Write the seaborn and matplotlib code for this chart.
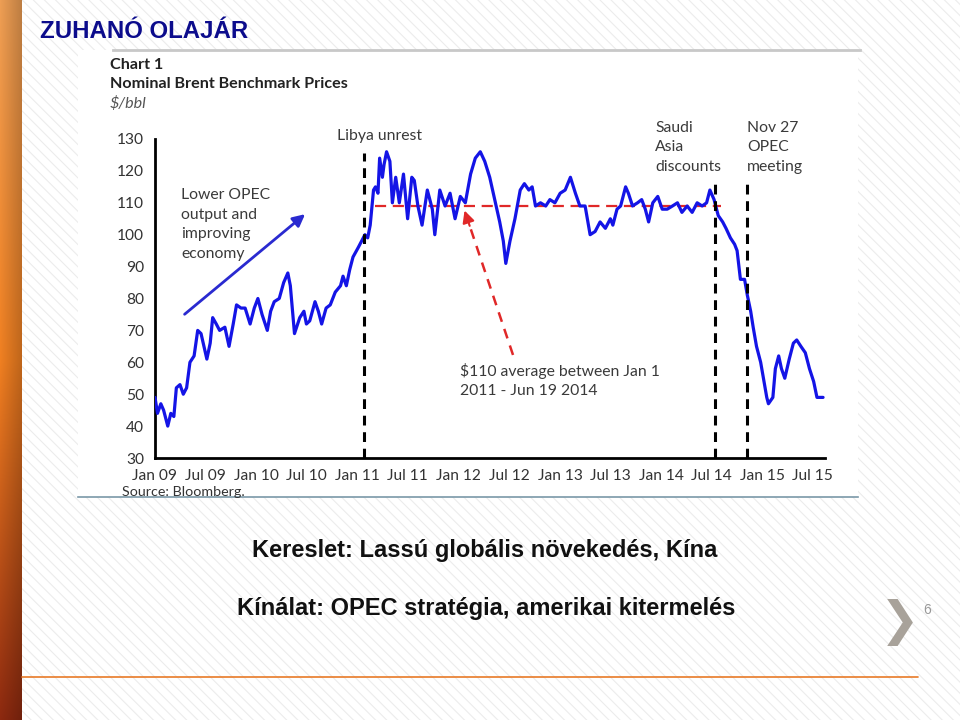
import numpy as np
import pandas as pd
import matplotlib
matplotlib.use("Agg")
import matplotlib.pyplot as plt
import matplotlib.dates as mdates
from matplotlib.patches import Rectangle
import seaborn as sns

# ---------------- data ----------------
dates = [
    "2009-01-01", "2009-01-10", "2009-01-22", "2009-02-01", "2009-02-16", "2009-02-27",
    "2009-03-10", "2009-03-19", "2009-04-01", "2009-04-13", "2009-04-25", "2009-05-07",
    "2009-05-22", "2009-06-04", "2009-06-16", "2009-07-07", "2009-07-19", "2009-07-28",
    "2009-08-10", "2009-08-22", "2009-09-10", "2009-09-25", "2009-10-10", "2009-10-22",
    "2009-11-07", "2009-11-22", "2009-12-10", "2009-12-25", "2010-01-07", "2010-01-22",
    "2010-02-10", "2010-02-22", "2010-03-07", "2010-03-25", "2010-04-10", "2010-04-25",
    "2010-05-04", "2010-05-19", "2010-06-07", "2010-06-22", "2010-07-01", "2010-07-13",
    "2010-08-01", "2010-08-13", "2010-08-25", "2010-09-10", "2010-09-25", "2010-10-13",
    "2010-11-01", "2010-11-10", "2010-11-22", "2010-12-04", "2010-12-16", "2011-01-04",
    "2011-01-16", "2011-01-28", "2011-02-07", "2011-02-16", "2011-02-28", "2011-03-07",
    "2011-03-16", "2011-03-22", "2011-04-01", "2011-04-07", "2011-04-16", "2011-04-28",
    "2011-05-07", "2011-05-19", "2011-06-01", "2011-06-16", "2011-07-01", "2011-07-16",
    "2011-07-25", "2011-08-07", "2011-08-22", "2011-09-10", "2011-09-28", "2011-10-07",
    "2011-10-25", "2011-11-13", "2011-12-01", "2011-12-19", "2012-01-07", "2012-01-25",
    "2012-02-13", "2012-03-01", "2012-03-19", "2012-04-04", "2012-04-22", "2012-05-10",
    "2012-05-28", "2012-06-10", "2012-06-19", "2012-07-04", "2012-07-22", "2012-08-10",
    "2012-08-25", "2012-09-10", "2012-09-22", "2012-10-04", "2012-10-22", "2012-11-10",
    "2012-11-25", "2012-12-13", "2013-01-01", "2013-01-19", "2013-02-07", "2013-02-25",
    "2013-03-13", "2013-04-01", "2013-04-19", "2013-05-07", "2013-05-25", "2013-06-13",
    "2013-07-01", "2013-07-10", "2013-07-25", "2013-08-07", "2013-08-25", "2013-09-04",
    "2013-09-19", "2013-10-07", "2013-10-22", "2013-11-04", "2013-11-16", "2013-12-01",
    "2013-12-19", "2014-01-04", "2014-01-22", "2014-02-10", "2014-02-28", "2014-03-16",
    "2014-04-04", "2014-04-22", "2014-05-10", "2014-05-28", "2014-06-13", "2014-06-25",
    "2014-07-10", "2014-07-25", "2014-08-10", "2014-08-22", "2014-09-07", "2014-09-22",
    "2014-10-01", "2014-10-13", "2014-10-28", "2014-11-07", "2014-11-19", "2014-11-28",
    "2014-12-10", "2014-12-25", "2015-01-04", "2015-01-16", "2015-01-22", "2015-02-07",
    "2015-02-16", "2015-02-28", "2015-03-10", "2015-03-22", "2015-04-07", "2015-04-22",
    "2015-05-04", "2015-05-19", "2015-06-04", "2015-06-19", "2015-07-04", "2015-07-16",
    "2015-07-28", "2015-08-07",
]
prices = [
    49, 44, 47, 45, 40, 44,
    43, 52, 53, 50, 52, 60,
    62, 70, 69, 61, 66, 74,
    72, 70, 71, 65, 72, 78,
    77, 77, 72, 77, 80, 75,
    70, 76, 79, 80, 85, 88,
    84, 69, 74, 76, 72, 73,
    79, 76, 72, 77, 78, 82,
    84, 87, 84, 89, 93, 96,
    98, 100, 99, 103, 114, 115,
    113, 124, 118, 122, 126, 123,
    110, 118, 110, 119, 105, 118,
    117, 109, 103, 114, 108, 100,
    114, 109, 113, 105, 112, 110,
    119, 124, 126, 123, 118, 111,
    104, 98, 91, 98, 105, 114,
    116, 114, 115, 109, 110, 109,
    111, 110, 113, 114, 118, 113,
    109, 109, 100, 101, 104, 102,
    105, 103, 108, 109, 115, 113,
    109, 110, 111, 108, 104, 110,
    112, 108, 108, 109, 110, 107,
    109, 107, 110, 109, 110, 114,
    111, 106, 104, 102, 99, 97,
    95, 86, 86, 81, 76, 71,
    65, 60, 55, 49, 47, 49,
    58, 62, 58, 55, 61, 66,
    67, 65, 63, 58, 54, 49,
    49, 49,
]
tick_dates = ["2009-01-01", "2009-07-01", "2010-01-01", "2010-07-01", "2011-01-01",
              "2011-07-01", "2012-01-01", "2012-07-01", "2013-01-01", "2013-07-01",
              "2014-01-01", "2014-07-01", "2015-01-01", "2015-07-01"]
tick_labels = ["Jan 09", "Jul 09", "Jan 10", "Jul 10", "Jan 11", "Jul 11", "Jan 12",
               "Jul 12", "Jan 13", "Jul 13", "Jan 14", "Jul 14", "Jan 15", "Jul 15"]
y_ticks = [30, 40, 50, 60, 70, 80, 90, 100, 110, 120, 130]
average_level = 109
average_span = ["2011-03-05", "2014-08-05"]
events = {"Libya": "2011-01-25", "Saudi": "2014-07-13", "OPEC": "2014-11-07"}

df = pd.DataFrame({"date": pd.to_datetime(dates), "price": prices})

# ---------------- figure ----------------
W, H = 960, 720
fig = plt.figure(figsize=(W / 100, H / 100), dpi=100)
fig.patch.set_facecolor("white")

def fx(x):
    return x / W

def fy(y):
    return 1 - y / H

# striped slide background
plt.rcParams["hatch.linewidth"] = 0.8
bg = Rectangle((0, 0), 1, 1, transform=fig.transFigure, facecolor="white",
               edgecolor="#ececec", hatch="\\\\\\", linewidth=0, zorder=-10)
fig.patches.append(bg)

# left orange bar (gradient)
bar_ax = fig.add_axes([0, 0, fx(22), 1])
grad_v = np.linspace(0, 1, 256)[:, None]
top = np.array([0.93, 0.62, 0.33])
mid = np.array([0.94, 0.50, 0.13])
bot = np.array([0.55, 0.16, 0.06])
cols = np.where(grad_v[..., None] < 0.5,
                top + (mid - top) * (grad_v[..., None] / 0.5),
                mid + (bot - mid) * ((grad_v[..., None] - 0.5) / 0.5))
shade = np.linspace(1.0, 0.8, 20)[None, :, None]
img = np.clip(cols * shade, 0, 1)
bar_ax.imshow(img, aspect="auto", extent=[0, 1, 1, 0])
bar_ax.axis("off")

# slide title
fig.text(fx(40), fy(31), "ZUHANÓ OLAJÁR", fontsize=17.3, fontweight="bold",
         color="#0c0c8c", family="Liberation Sans", va="center", ha="left")

# chart image white box
box = Rectangle((fx(78), fy(497)), fx(858) - fx(78), fy(50) - fy(497),
                transform=fig.transFigure, facecolor="white", edgecolor="none", zorder=-5)
fig.patches.append(box)
fig.add_artist(plt.Line2D([fx(113), fx(860)], [fy(50), fy(50)], color="#c8c8c8", lw=2))
fig.add_artist(plt.Line2D([fx(78), fx(858)], [fy(497), fy(497)], color="#7a98a8", lw=1.2))

cfont = "Lato"
fig.text(fx(110), fy(65), "Chart 1", fontsize=11.6, fontweight="bold", color="#222222",
         family=cfont, va="center")
fig.text(fx(110), fy(84), "Nominal Brent Benchmark Prices", fontsize=11.6, fontweight="bold",
         color="#222222", family=cfont, va="center")
fig.text(fx(110), fy(103), "$/bbl", fontsize=11.6, style="italic", color="#555555",
         family=cfont, va="center")
fig.text(fx(122), fy(492), "Source: Bloomberg.", fontsize=10.3, color="#333333",
         family=cfont, va="center")

# ---------------- main axes ----------------
sns.set_style("white")
ax = fig.add_axes([fx(155), fy(458), fx(825) - fx(155), fy(139) - fy(458)])
ax.set_facecolor("none")
sns.lineplot(data=df, x="date", y="price", ax=ax, color="#1414e6", linewidth=2.3, zorder=3)

ax.set_ylim(30, 130)
ax.set_xlim(pd.Timestamp("2009-01-01"), pd.Timestamp("2015-08-14"))
ax.set_yticks(y_ticks)
ax.set_xticks(pd.to_datetime(tick_dates))
ax.set_xticklabels(tick_labels)
ax.set_xlabel("")
ax.set_ylabel("")
for s in ["top", "right"]:
    ax.spines[s].set_visible(False)
for s in ["left", "bottom"]:
    ax.spines[s].set_color("black")
    ax.spines[s].set_linewidth(2)
ax.tick_params(axis="both", direction="out", length=5, width=1.5, color="black",
               labelsize=11.2, labelcolor="#333333", pad=3)
for lab in ax.get_xticklabels() + ax.get_yticklabels():
    lab.set_family(cfont)

# average line
avg_x = pd.to_datetime(average_span)
ax.plot(avg_x, [average_level, average_level], color="#e02828", lw=1.6,
        dashes=(5, 3), zorder=2)

# event vertical lines
for key, top_v in [("Libya", 125.5), ("Saudi", 117), ("OPEC", 116.5)]:
    d = pd.Timestamp(events[key])
    ax.plot([d, d], [30, top_v], color="black", lw=2.2, dashes=(3.2, 2.2), zorder=4,
            clip_on=False)

tcol = "#3a3a3a"
fs = 11.3
ls = 1.5
ax.text(pd.Timestamp("2010-10-20"), 131.0, "Libya unrest", fontsize=fs, color=tcol,
        family=cfont, va="center", ha="left")
ax.text(pd.Timestamp("2013-12-10"), 127.4, "Saudi\nAsia\ndiscounts", fontsize=fs,
        color=tcol, family=cfont, va="center", ha="left", linespacing=ls)
ax.text(pd.Timestamp("2014-11-07"), 127.4, "Nov 27\nOPEC\nmeeting", fontsize=fs,
        color=tcol, family=cfont, va="center", ha="left", linespacing=ls)
ax.text(pd.Timestamp("2009-04-05"), 103.2, "Lower OPEC\noutput and\nimproving\neconomy",
        fontsize=fs, color=tcol, family=cfont, va="center", ha="left", linespacing=ls)
ax.text(pd.Timestamp("2012-01-07"), 54.3, "$110 average between Jan 1\n2011 - Jun 19 2014",
        fontsize=fs, color=tcol, family=cfont, va="center", ha="left", linespacing=ls)

# blue arrow
ax.annotate("", xy=(pd.Timestamp("2010-07-04"), 107), xytext=(pd.Timestamp("2009-04-10"), 74.5),
            arrowprops=dict(arrowstyle="-|>", color="#2a2ad0", lw=2, mutation_scale=18))
# red dashed arrow
r_start = (mdates.date2num(pd.Timestamp("2012-07-15")), 62.3)
r_tip = (mdates.date2num(pd.Timestamp("2012-01-19")), 108.4)
ax.plot([r_start[0], r_tip[0] + (r_start[0] - r_tip[0]) * 0.12],
        [r_start[1], r_tip[1] + (r_start[1] - r_tip[1]) * 0.12],
        color="#e02828", lw=1.8, dashes=(4, 3))
ax.annotate("", xy=r_tip,
            xytext=(r_tip[0] + (r_start[0] - r_tip[0]) * 0.14, r_tip[1] + (r_start[1] - r_tip[1]) * 0.14),
            arrowprops=dict(arrowstyle="-|>", color="#e02828", lw=1.5, mutation_scale=18))

# ---------------- slide bullet text ----------------
fig.text(fx(485), fy(551), "Kereslet: Lassú globális növekedés, Kína", fontsize=17,
         fontweight="bold", color="#111111", family="Liberation Sans", ha="center",
         va="center")
fig.text(fx(486), fy(608), "Kínálat: OPEC stratégia, amerikai kitermelés", fontsize=17,
         fontweight="bold", color="#111111", family="Liberation Sans", ha="center",
         va="center")
fig.text(fx(900), fy(622), "❯", fontsize=34, color="#a8a29a", family="DejaVu Sans",
         ha="center", va="center")
fig.text(fx(927), fy(610), "6", fontsize=10, color="#999999", family="Liberation Sans",
         ha="center", va="center")
fig.add_artist(plt.Line2D([fx(22), fx(918)], [fy(677), fy(677)], color="#e87a28", lw=1.2))

fig.savefig("out.png", dpi=100, facecolor="white")
